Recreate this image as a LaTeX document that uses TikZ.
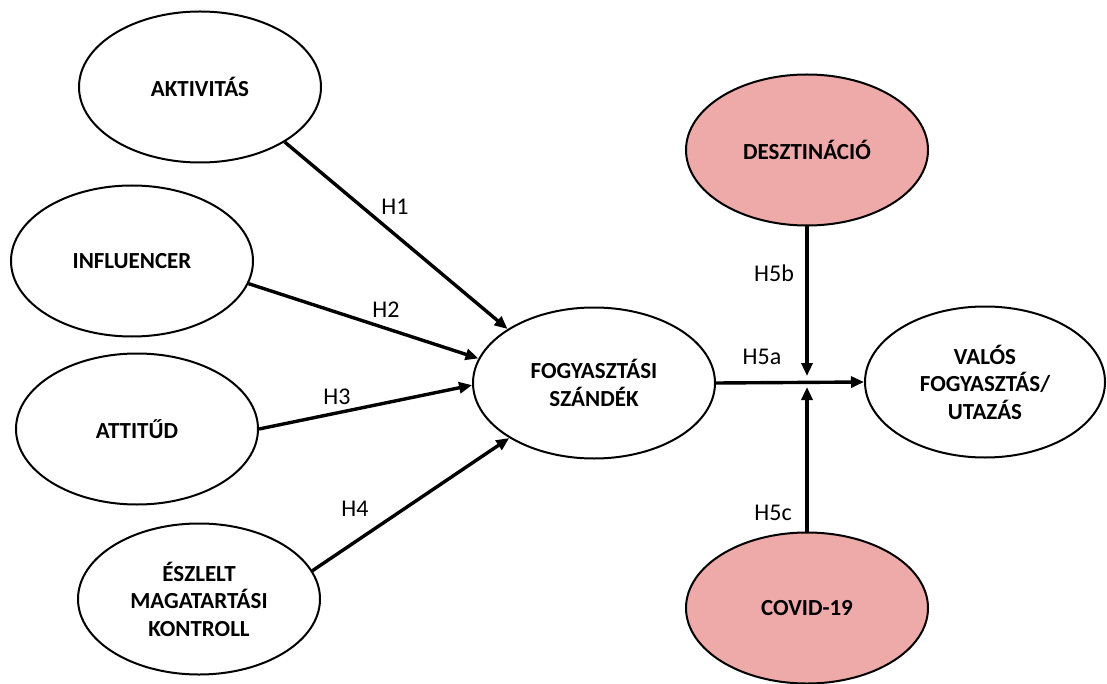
\documentclass[tikz,border=0pt]{standalone}
\usepackage{fontspec}
\setmainfont{Carlito}
\usetikzlibrary{shapes.geometric,arrows.meta}
\definecolor{pinkfill}{RGB}{238,169,169}
\begin{document}
\begin{tikzpicture}[x=1pt,y=-1pt,
  oval/.style={ellipse,draw=black,line width=2pt,minimum width=242pt,minimum height=151pt,inner sep=0pt,align=center,font=\fontsize{23}{27.5}\selectfont\bfseries},
  pinkoval/.style={oval,fill=pinkfill},
  arr/.style={line width=3.4pt,-{Triangle[length=13pt,width=11pt]}},
  hlab/.style={font=\fontsize{24}{28}\selectfont,inner sep=0pt}]
\useasboundingbox (0,0) rectangle (1107,684);
\node[oval] (akt) at (200,87) {AKTIVITÁS};
\node[oval] (inf) at (132,261) {INFLUENCER};
\node[oval] (att) at (137,429) {ATTITŰD};
\node[oval] (esz) at (199,599) {ÉSZLELT\\MAGATARTÁSI\\KONTROLL};
\node[oval] (fogy) at (594,383) {FOGYASZTÁSI\\SZÁNDÉK};
\node[pinkoval] (desz) at (807,150) {DESZTINÁCIÓ};
\node[oval,minimum width=240pt] (valos) at (985,382) {VALÓS\\FOGYASZTÁS/\\UTAZÁS};
\node[pinkoval] (covid) at (807,608) {COVID-19};
\coordinate (mtop) at (807,376);
\coordinate (mbot) at (807,387);
\draw[arr] (akt.-33) -- (fogy.148);
\draw[arr] (inf.-11) -- (fogy.168);
\draw[arr] (att.0) -- (fogy.181);
\draw[arr] (esz.14) -- (fogy.-147);
\draw[arr] (fogy.east) -- (valos.west);
\draw[arr] (desz.south) -- (mtop);
\draw[arr] (covid.north) -- (mbot);
\node[hlab] (h1) at (395,207) {H1};
\node[hlab] (h2) at (386,310) {H2};
\node[hlab] (h3) at (337,397) {H3};
\node[hlab] (h4) at (355,509) {H4};
\node[hlab] (h5a) at (762,357) {H5a};
\node[hlab] (h5b) at (774,273) {H5b};
\node[hlab] (h5c) at (773,513) {H5c};
\end{tikzpicture}
\end{document}
